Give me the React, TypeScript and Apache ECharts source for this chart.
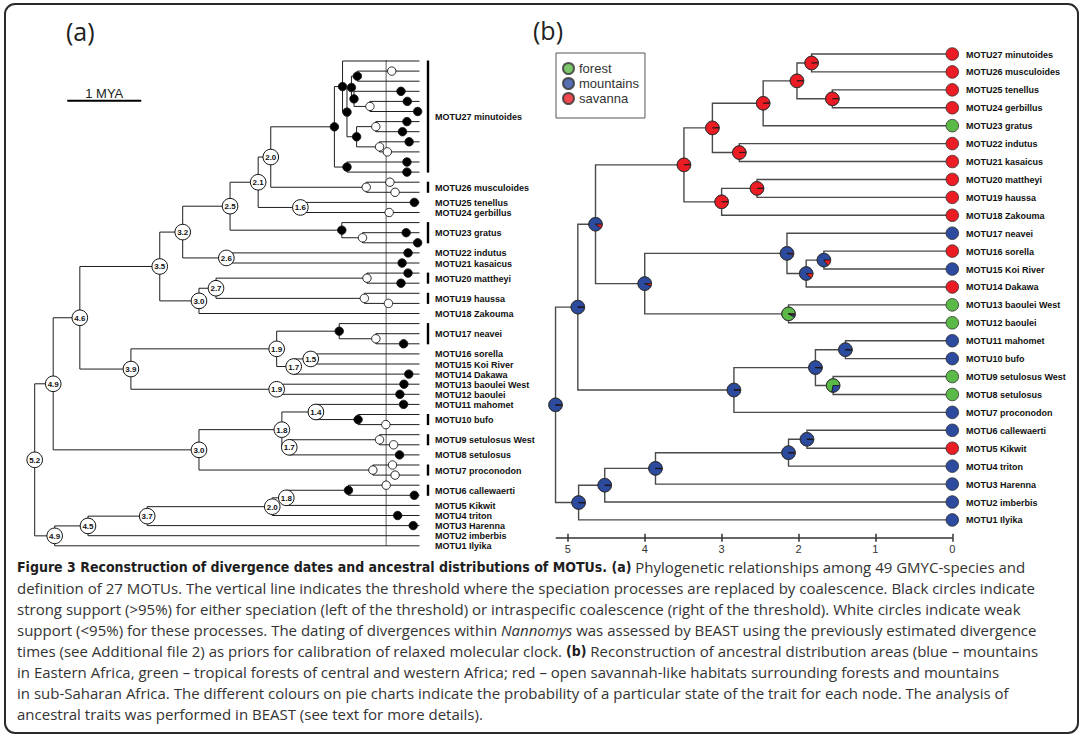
import React, { useEffect, useRef } from "react";
import * as echarts from "echarts";

const FONT = "'Liberation Sans', Arial, sans-serif";
const CAP_FONT = "'Open Sans', Lato, sans-serif";
const CAP_BOLD = "'Liberation Sans Narrow', 'DejaVu Sans Condensed', sans-serif";

// ---------------- Panel (a): GMYC tree ----------------
// MOTU name, first tip row, last tip row (49 tips, row 0 = top)
const motuA: [string, number, number][] = [
  ["MOTU27 minutoides", 0, 11],
  ["MOTU26 musculoides", 12, 13],
  ["MOTU25 tenellus", 14, 14],
  ["MOTU24 gerbillus", 15, 15],
  ["MOTU23 gratus", 16, 18],
  ["MOTU22 indutus", 19, 19],
  ["MOTU21 kasaicus", 20, 20],
  ["MOTU20 mattheyi", 21, 22],
  ["MOTU19 haussa", 23, 24],
  ["MOTU18 Zakouma", 25, 25],
  ["MOTU17 neavei", 26, 28],
  ["MOTU16 sorella", 29, 29],
  ["MOTU15 Koi River", 30, 30],
  ["MOTU14 Dakawa", 31, 31],
  ["MOTU13 baoulei West", 32, 32],
  ["MOTU12 baoulei", 33, 33],
  ["MOTU11 mahomet", 34, 34],
  ["MOTU10 bufo", 35, 36],
  ["MOTU9 setulosus West", 37, 38],
  ["MOTU8 setulosus", 39, 39],
  ["MOTU7 proconodon", 40, 41],
  ["MOTU6 callewaerti", 42, 43],
  ["MOTU5 Kikwit", 44, 44],
  ["MOTU4 triton", 45, 45],
  ["MOTU3 Harenna", 46, 46],
  ["MOTU2 imberbis", 47, 47],
  ["MOTU1 Ilyika", 48, 48],
];

// id, age (MYA), child 1, child 2, marker, age label
const nodesA: [string, number, string, string, string, string][] = [
  ["n1", 0.84, "t1", "t2", "black", ""],
  ["n2", 0.67, "t4", "t5", "white", ""],
  ["n3", 0.885, "t3", "n2", "black", ""],
  ["n4", 0.92, "n1", "n3", "black", ""],
  ["n5", 0.59, "t6", "t7", "white", ""],
  ["n6", 0.54, "t8", "t9", "white", ""],
  ["n7", 0.85, "n5", "n6", "black", ""],
  ["n8", 0.98, "n4", "n7", "black", ""],
  ["n9", 1.04, "t0", "n8", "black", ""],
  ["n10", 0.98, "t10", "t11", "black", ""],
  ["n11", 1.15, "n9", "n10", "black", ""],
  ["n12", 0.72, "t12", "t13", "white", ""],
  ["n13", 2.01, "n11", "n12", "age", "2.0"],
  ["n14", 1.61, "t14", "t15", "age", "1.6"],
  ["n15", 2.18, "n13", "n14", "age", "2.1"],
  ["n16", 0.77, "t17", "t18", "white", ""],
  ["n17", 1.05, "t16", "n16", "black", ""],
  ["n18", 2.56, "n15", "n17", "age", "2.5"],
  ["n19", 2.61, "t19", "t20", "age", "2.6"],
  ["n20", 3.2, "n18", "n19", "age", "3.2"],
  ["n21", 0.71, "t21", "t22", "white", ""],
  ["n22", 0.745, "t23", "t24", "white", ""],
  ["n23", 2.75, "n21", "n22", "age", "2.7"],
  ["n24", 2.98, "n23", "t25", "age", "3.0"],
  ["n25", 3.51, "n20", "n24", "age", "3.5"],
  ["n26", 0.59, "t27", "t28", "white", ""],
  ["n27", 1.085, "t26", "n26", "black", ""],
  ["n28", 1.47, "t29", "t30", "age", "1.5"],
  ["n29", 1.7, "n28", "t31", "age", "1.7"],
  ["n30", 1.93, "n27", "n29", "age", "1.9"],
  ["n31", 1.93, "t32", "t33", "age", "1.9"],
  ["n32", 3.9, "n30", "n31", "age", "3.9"],
  ["n33", 4.59, "n25", "n32", "age", "4.6"],
  ["n34", 0.83, "t35", "t36", "black", ""],
  ["n35", 1.4, "t34", "n34", "age", "1.4"],
  ["n36", 0.54, "t37", "t38", "white", ""],
  ["n37", 1.76, "n36", "t39", "age", "1.7"],
  ["n38", 1.86, "n35", "n37", "age", "1.8"],
  ["n39", 0.63, "t40", "t41", "white", ""],
  ["n40", 2.98, "n38", "n39", "age", "3.0"],
  ["n41", 4.95, "n33", "n40", "age", "4.9"],
  ["n42", 0.96, "t42", "t43", "black", ""],
  ["n43", 1.8, "n42", "t44", "age", "1.8"],
  ["n44", 1.99, "n43", "t45", "age", "2.0"],
  ["n45", 3.68, "n44", "t46", "age", "3.7"],
  ["n46", 4.48, "n45", "t47", "age", "4.5"],
  ["n47", 4.93, "n46", "t48", "age", "4.9"],
  ["n48", 5.2, "n41", "n47", "age", "5.2"],
];

// coalescent-node circles on terminal branches: tip row, age, support
const tipMarksA: [number, number, string][] = [
  [1, 0.375, "white"], [3, 0.25, "black"], [4, 0.165, "black"], [5, 0.025, "black"],
  [6, 0.17, "black"], [7, 0.23, "black"], [8, 0.14, "black"], [9, 0.435, "white"],
  [10, 0.17, "black"], [11, 0.17, "black"], [12, 0.4, "white"], [13, 0.33, "white"],
  [14, 0.07, "black"], [15, 0.41, "white"], [17, 0.18, "black"], [18, 0.025, "black"],
  [19, 0.155, "black"], [20, 0.235, "black"], [21, 0.155, "black"], [22, 0.25, "black"],
  [24, 0.42, "white"], [28, 0.215, "black"], [31, 0.145, "black"], [32, 0.21, "black"],
  [33, 0.265, "black"], [34, 0.215, "black"], [36, 0.455, "white"], [38, 0.35, "white"],
  [39, 0.27, "black"], [40, 0.365, "white"], [41, 0.33, "white"], [42, 0.45, "white"],
  [43, 0.07, "black"], [45, 0.295, "black"], [46, 0.085, "black"],
];

const thresholdA = [0.45, -0.1, 48]; // age, from row, to row
const scaleBarA = [4.76, 3.76, 3.93]; // from age, to age, row
const scaleBarLabel = "1 MYA";

// ---------------- Panel (b): ancestral areas ----------------
const tipLabelsB = [
  "MOTU27 minutoides", "MOTU26 musculoides", "MOTU25 tenellus", "MOTU24 gerbillus",
  "MOTU23 gratus", "MOTU22 indutus", "MOTU21 kasaicus", "MOTU20 mattheyi",
  "MOTU19 haussa", "MOTU18 Zakouma", "MOTU17 neavei", "MOTU16 sorella",
  "MOTU15 Koi River", "MOTU14 Dakawa", "MOTU13 baoulei West", "MOTU12 baoulei",
  "MOTU11 mahomet", "MOTU10 bufo", "MOTU9 setulosus West", "MOTU8 setulosus",
  "MOTU7 proconodon", "MOTU6 callewaerti", "MOTU5 Kikwit", "MOTU4 triton",
  "MOTU3 Harenna", "MOTU2 imberbis", "MOTU1 Ilyika",
];
// 0 forest, 1 mountains, 2 savanna
const tipStateB = [2, 2, 2, 2, 0, 2, 2, 2, 2, 2, 1, 2, 1, 2, 0, 0, 1, 1, 0, 0, 1, 1, 2, 1, 1, 1, 1];

// id, age, child 1, child 2
const nodesB: [string, number, string, string][] = [
  ["b1", 1.83, "t0", "t1"],
  ["b2", 1.56, "t2", "t3"],
  ["b3", 2.02, "b1", "b2"],
  ["b4", 2.46, "b3", "t4"],
  ["b5", 2.77, "t5", "t6"],
  ["b6", 3.12, "b4", "b5"],
  ["b7", 2.54, "t7", "t8"],
  ["b8", 3.0, "b7", "t9"],
  ["b9", 3.49, "b6", "b8"],
  ["b10", 1.67, "t11", "t12"],
  ["b11", 1.9, "b10", "t13"],
  ["b12", 2.15, "t10", "b11"],
  ["b13", 2.13, "t14", "t15"],
  ["b14", 4.0, "b12", "b13"],
  ["b15", 4.64, "b9", "b14"],
  ["b16", 1.39, "t16", "t17"],
  ["b17", 1.55, "t18", "t19"],
  ["b18", 1.78, "b16", "b17"],
  ["b19", 2.84, "b18", "t20"],
  ["b20", 4.87, "b15", "b19"],
  ["b21", 1.89, "t21", "t22"],
  ["b22", 2.13, "b21", "t23"],
  ["b23", 3.86, "b22", "t24"],
  ["b24", 4.52, "b23", "t25"],
  ["b25", 4.86, "b24", "t26"],
  ["b26", 5.16, "b20", "b25"],
];
// posterior probability of each state at each node of nodesB
const pieForest = [0, 0, 0, 0.01, 0, 0, 0, 0, 0, 0, 0, 0, 0.92, 0, 0, 0, 0.72, 0.01, 0.01, 0, 0, 0, 0, 0, 0, 0];
const pieMountains = [0.01, 0.01, 0.01, 0.01, 0.01, 0.01, 0.01, 0.01, 0.02, 0.85, 0.88, 0.97, 0.06, 0.94, 0.9, 0.99, 0.28, 0.98, 0.98, 0.99, 0.99, 0.99, 0.99, 0.99, 0.99, 0.99];
const pieSavanna = [0.99, 0.99, 0.99, 0.98, 0.99, 0.99, 0.99, 0.99, 0.98, 0.15, 0.12, 0.03, 0.02, 0.06, 0.1, 0.01, 0, 0.01, 0.01, 0.01, 0.01, 0.01, 0.01, 0.01, 0.01, 0.01];

const stateNames = ["forest", "mountains", "savanna"];
const stateColors = ["#5bb947", "#2c4b9f", "#ec1c24"];
const axisTicksB = [0, 1, 2, 3, 4, 5];

const captionLines = [
  "{b|Figure 3 Reconstruction of divergence dates and ancestral distributions of MOTUs. (a)}{n| Phylogenetic relationships among 49 GMYC-species and}",
  "{n|definition of 27 MOTUs. The vertical line indicates the threshold where the speciation processes are replaced by coalescence. Black circles indicate}",
  "{n|strong support (>95%) for either speciation (left of the threshold) or intraspecific coalescence (right of the threshold). White circles indicate weak}",
  "{n|support (<95%) for these processes. The dating of divergences within }{i|Nannomys}{n| was assessed by BEAST using the previously estimated divergence}",
  "{n|times (see Additional file 2) as priors for calibration of relaxed molecular clock. }{b|(b)}{n| Reconstruction of ancestral distribution areas (blue – mountains}",
  "{n|in Eastern Africa, green – tropical forests of central and western Africa; red – open savannah-like habitats surrounding forests and mountains}",
  "{n|in sub-Saharan Africa. The different colours on pie charts indicate the probability of a particular state of the trait for each node. The analysis of}",
  "{n|ancestral traits was performed in BEAST (see text for more details).}",
];

type P = { age: number; y: number };
function layout(nodes: [string, number, string, string, ...any[]][]) {
  const pos: Record<string, P> = {};
  const get = (id: string): P => (id[0] === "t" ? { age: 0, y: Number(id.slice(1)) } : pos[id]);
  nodes.forEach((n) => {
    const a = get(n[2]);
    const b = get(n[3]);
    pos[n[0]] = { age: n[1], y: (a.y + b.y) / 2 };
  });
  return get;
}

function branchData(nodes: [string, number, string, string, ...any[]][]) {
  const get = layout(nodes);
  return nodes.map((n) => {
    const a = get(n[2]);
    const b = get(n[3]);
    return [a.age, a.y, n[1], b.y, b.age];
  });
}

const branchRender = (color: string, lw: number) => (params: any, api: any) => {
  const p1 = api.coord([api.value(0), api.value(1)]);
  const p2 = api.coord([api.value(2), api.value(1)]);
  const p3 = api.coord([api.value(2), api.value(3)]);
  const p4 = api.coord([api.value(4), api.value(3)]);
  return {
    type: "polyline",
    shape: { points: [p1, p2, p3, p4] },
    style: { stroke: color, lineWidth: lw, fill: "none" },
  };
};

function buildOption() {
  const getA = layout(nodesA);
  const getB = layout(nodesB);

  const series: any[] = [];

  series.push({
    type: "custom", xAxisIndex: 0, yAxisIndex: 0, silent: true, z: 1,
    data: [thresholdA],
    renderItem: (p: any, api: any) => {
      const a = api.coord([api.value(0), api.value(1)]);
      const b = api.coord([api.value(0), api.value(2)]);
      return { type: "line", shape: { x1: a[0], y1: a[1], x2: b[0], y2: b[1] }, style: { stroke: "#9a9a9a", lineWidth: 1.6 } };
    },
  });
  series.push({
    type: "custom", xAxisIndex: 0, yAxisIndex: 0, silent: true, z: 2,
    data: branchData(nodesA),
    renderItem: branchRender("#1e1e1e", 1),
  });
  series.push({
    type: "custom", xAxisIndex: 0, yAxisIndex: 0, silent: true, z: 3,
    data: tipMarksA.map((m) => [m[1], m[0]]),
    renderItem: (p: any, api: any) => {
      const c = api.coord([api.value(0), api.value(1)]);
      const black = tipMarksA[p.dataIndex][2] === "black";
      return { type: "circle", shape: { cx: c[0], cy: c[1], r: 4.2 }, style: { fill: black ? "#000" : "#fff", stroke: "#111", lineWidth: 0.9 } };
    },
  });
  series.push({
    type: "custom", xAxisIndex: 0, yAxisIndex: 0, silent: true, z: 4,
    data: nodesA.map((n) => [n[1], getA(n[0]).y]),
    renderItem: (p: any, api: any) => {
      const c = api.coord([api.value(0), api.value(1)]);
      const n = nodesA[p.dataIndex];
      if (n[4] === "age") {
        return {
          type: "group",
          children: [
            { type: "circle", shape: { cx: c[0], cy: c[1], r: 7.8 }, style: { fill: "#fff", stroke: "#111", lineWidth: 1 } },
            { type: "text", x: c[0], y: c[1] + 0.5, style: { text: n[5], fill: "#111", font: `bold 8px ${FONT}`, align: "center", verticalAlign: "middle" } },
          ],
        };
      }
      const black = n[4] === "black";
      return { type: "circle", shape: { cx: c[0], cy: c[1], r: 4.2 }, style: { fill: black ? "#000" : "#fff", stroke: "#111", lineWidth: 0.9 } };
    },
  });
  series.push({
    type: "custom", xAxisIndex: 0, yAxisIndex: 0, silent: true, z: 4,
    data: motuA.map((m) => [0, (m[1] + m[2]) / 2, m[1], m[2]]),
    renderItem: (p: any, api: any) => {
      const c = api.coord([0, api.value(1)]);
      const t = api.coord([0, api.value(2)]);
      const b = api.coord([0, api.value(3)]);
      const children: any[] = [
        { type: "text", x: c[0] + 15.5, y: c[1] + 0.5, style: { text: motuA[p.dataIndex][0], fill: "#111", font: `bold 9px ${FONT}`, align: "left", verticalAlign: "middle" } },
      ];
      if (api.value(3) > api.value(2)) {
        children.push({ type: "line", shape: { x1: t[0] + 8.5, y1: t[1] - 0.5, x2: b[0] + 8.5, y2: b[1] + 0.5 }, style: { stroke: "#000", lineWidth: 2.4 } });
      }
      return { type: "group", children };
    },
  });
  series.push({
    type: "custom", xAxisIndex: 0, yAxisIndex: 0, silent: true, z: 4,
    data: [scaleBarA],
    renderItem: (p: any, api: any) => {
      const a = api.coord([api.value(0), api.value(2)]);
      const b = api.coord([api.value(1), api.value(2)]);
      return {
        type: "group",
        children: [
          { type: "line", shape: { x1: a[0], y1: a[1], x2: b[0], y2: b[1] }, style: { stroke: "#000", lineWidth: 2 } },
          { type: "text", x: (a[0] + b[0]) / 2, y: a[1] - 7, style: { text: scaleBarLabel, fill: "#222", font: `13px ${FONT}`, align: "center", verticalAlign: "middle" } },
        ],
      };
    },
  });

  series.push({
    type: "custom", xAxisIndex: 1, yAxisIndex: 1, silent: true, z: 2,
    data: branchData(nodesB),
    renderItem: branchRender("#4a4a4a", 1.4),
  });
  series.push({
    type: "custom", xAxisIndex: 1, yAxisIndex: 1, silent: true, z: 4,
    data: nodesB.map((n, k) => [n[1], getB(n[0]).y, pieForest[k], pieMountains[k], pieSavanna[k]]),
    renderItem: (p: any, api: any) => {
      const c = api.coord([api.value(0), api.value(1)]);
      const vals = [api.value(2), api.value(3), api.value(4)];
      const tot = vals[0] + vals[1] + vals[2];
      const r = 6.8;
      const children: any[] = [];
      let acc = 0;
      vals.forEach((v: number, k: number) => {
        if (v <= 0) return;
        const a1 = (acc / tot) * Math.PI * 2;
        const a2 = ((acc + v) / tot) * Math.PI * 2;
        acc += v;
        children.push({
          type: "sector",
          shape: { cx: c[0], cy: c[1], r, r0: 0, startAngle: -a2, endAngle: -a1, clockwise: true },
          style: { fill: stateColors[k], stroke: "#151515", lineWidth: 0.7 },
        });
      });
      children.push({ type: "circle", shape: { cx: c[0], cy: c[1], r }, style: { fill: "none", stroke: "#333", lineWidth: 0.8 } });
      return { type: "group", children };
    },
  });
  series.push({
    type: "custom", xAxisIndex: 1, yAxisIndex: 1, silent: true, z: 4,
    data: tipLabelsB.map((_, j) => [0, j, tipStateB[j]]),
    renderItem: (p: any, api: any) => {
      const c = api.coord([api.value(0), api.value(1)]);
      return {
        type: "group",
        children: [
          { type: "circle", shape: { cx: c[0], cy: c[1], r: 6.3 }, style: { fill: stateColors[api.value(2)], stroke: "#333", lineWidth: 0.8 } },
          { type: "text", x: c[0] + 13.7, y: c[1] + 0.5, style: { text: tipLabelsB[p.dataIndex], fill: "#111", font: `bold 9px ${FONT}`, align: "left", verticalAlign: "middle" } },
        ],
      };
    },
  });
  stateNames.forEach((name, k) => {
    series.push({
      type: "scatter", name, xAxisIndex: 1, yAxisIndex: 1, data: [],
      itemStyle: { color: stateColors[k], borderColor: "#333", borderWidth: 0.8 },
    });
  });

  const graphic: any[] = [
    { type: "rect", shape: { x: 5, y: 4, width: 1073, height: 729, r: 10 }, style: { fill: "none", stroke: "#2a2a2a", lineWidth: 2 }, silent: true },
    { type: "text", x: 66, y: 31, style: { text: "(a)", fill: "#222", font: `25px 'Open Sans', sans-serif`, verticalAlign: "middle" } },
    { type: "text", x: 533, y: 30, style: { text: "(b)", fill: "#222", font: `25px 'Open Sans', sans-serif`, verticalAlign: "middle" } },
  ];
  const rich = {
    n: { fontFamily: CAP_FONT, fontSize: 15, fill: "#333" },
    b: { fontFamily: CAP_BOLD, fontSize: 14, fontWeight: "bold", fill: "#1e1e1e" },
    i: { fontFamily: CAP_FONT, fontSize: 15, fontStyle: "italic", fill: "#333" },
  };
  captionLines.forEach((line, k) => {
    graphic.push({
      type: "text", x: 17, y: 567 + k * 21, silent: true,
      style: { text: line, rich, verticalAlign: "middle", align: "left", fontFamily: CAP_FONT, fontSize: 15 },
    });
  });

  return {
    animation: false,
    backgroundColor: "#fff",
    grid: [
      { left: 19.9, right: 662.5, top: 61, bottom: 200.2, containLabel: false, outerBoundsMode: "none" },
      { left: 556.3, right: 129.7, top: 54, bottom: 208.16, containLabel: false, outerBoundsMode: "none" },
    ],
    xAxis: [
      { gridIndex: 0, type: "value", min: 0, max: 5.4, inverse: true, show: false },
      {
        gridIndex: 1, type: "value", min: 0, max: 5.15, inverse: true, interval: 1, position: "bottom",
        axisLine: { show: true, onZero: false, lineStyle: { color: "#333", width: 1.5 } },
        axisTick: { show: true, length: 4, inside: false, customValues: axisTicksB, lineStyle: { color: "#333", width: 1.5 } },
        axisLabel: {
          show: true, customValues: axisTicksB, fontSize: 11, color: "#333", margin: 6, fontFamily: FONT,
          formatter: (v: number) => (Number.isInteger(v) ? String(v) : ""),
        },
        splitLine: { show: false },
      },
      {
        gridIndex: 1, type: "value", min: 0, max: 5.15, inverse: true, interval: 1, position: "bottom",
        axisLine: { show: false, onZero: false },
        axisTick: { show: true, length: 4, inside: true, customValues: axisTicksB, lineStyle: { color: "#333", width: 1.5 } },
        axisLabel: { show: false },
        splitLine: { show: false },
      },
    ],
    yAxis: [
      { gridIndex: 0, type: "value", min: 0, max: 48, inverse: true, show: false },
      { gridIndex: 1, type: "value", min: 0, max: 27, inverse: true, show: false },
    ],
    legend: {
      orient: "vertical", left: 556, top: 53, padding: [9, 6, 13, 6], itemGap: 2,
      itemWidth: 11, itemHeight: 11, icon: "circle", borderColor: "#555", borderWidth: 1,
      selectedMode: false, data: stateNames,
      textStyle: { fontSize: 13, color: "#333", fontFamily: FONT },
    },
    graphic,
    series,
  };
}

export default function App() {
  const ref = useRef<HTMLDivElement>(null);
  useEffect(() => {
    const chart = echarts.init(ref.current!, null, { renderer: "svg" });
    chart.setOption(buildOption() as any);
    return () => chart.dispose();
  }, []);
  return (
    <div
      ref={ref}
      style={{ position: "fixed", left: 0, top: 0, width: 1082, height: 746, background: "#fff" }}
    />
  );
}
